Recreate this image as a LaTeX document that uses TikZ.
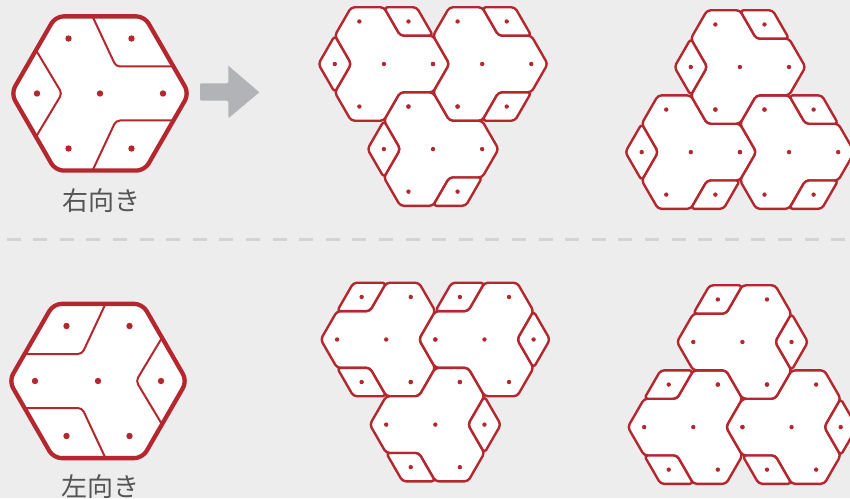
\documentclass[tikz,border=0pt]{standalone}
\usepackage{fontspec}
\newfontfamily\jpfont{Noto Sans CJK JP}
\definecolor{hexred}{HTML}{B5272E}
\definecolor{bggray}{HTML}{EDEDED}
\definecolor{arrowgray}{HTML}{B2B3B6}
\definecolor{dashgray}{HTML}{D3D3D3}
\definecolor{labelgray}{HTML}{555555}
\tikzset{
  piece/.style={fill=white, draw=hexred, line width=2.4pt, rounded corners=3.5pt, line join=round},
  bigline/.style={draw=hexred, line width=2pt, rounded corners=4pt, line join=round},
  label/.style={font=\jpfont\fontsize{26}{26}\selectfont, text=labelgray, anchor=base, inner sep=0pt}
}
% small tile pieces (right-facing, centred at origin)
\newcommand{\tpiece}{\path[piece] (65.5,0) -- (49.125,28.36) -- (16.375,28.36) -- (0,56.72) -- (-32.75,56.72) -- (-49.125,28.36) -- (-32.75,0) -- (-49.125,-28.36) -- (-32.75,-56.72) -- (0,-56.72) -- (16.375,-28.36) -- (49.125,-28.36) -- cycle;}
\newcommand{\trhA}{\path[piece] (32.75,56.72) -- (49.125,28.36) -- (16.375,28.36) -- (0,56.72) -- cycle;}
\newcommand{\trhB}{\path[piece] (-65.5,0) -- (-49.125,28.36) -- (-32.75,0) -- (-49.125,-28.36) -- cycle;}
\newcommand{\trhC}{\path[piece] (32.75,-56.72) -- (49.125,-28.36) -- (16.375,-28.36) -- (0,-56.72) -- cycle;}
\newcommand{\tdots}{\foreach \p in {(0,0),(49.125,0),(-49.125,0),(24.56,42.54),(-24.56,42.54),(24.56,-42.54),(-24.56,-42.54)} \fill[hexred] \p circle (2.2);}
% big icon (right-facing, centred at origin)
\newcommand{\bigicon}{%
  \path[fill=white, rounded corners=8pt] (89,0) -- (44.5,77.1) -- (-44.5,77.1) -- (-89,0) -- (-44.5,-77.1) -- (44.5,-77.1) -- cycle;
  \path[bigline] (-7.5,77.1) -- (16,27) -- (73.4,27);
  \path[bigline] (-7.5,-77.1) -- (16,-27) -- (73.4,-27);
  \path[bigline] (-64,43.3) -- (-38,0) -- (-64,-43.3);
  \draw[hexred, line width=4.3pt, rounded corners=8pt, line join=round] (89,0) -- (44.5,77.1) -- (-44.5,77.1) -- (-89,0) -- (-44.5,-77.1) -- (44.5,-77.1) -- cycle;
  \foreach \p in {(0,0),(63,0),(-63,0),(31.5,55),(-31.5,55),(31.5,-55),(-31.5,-55)} \fill[hexred] \p circle (3.2);
}
\begin{document}
\begin{tikzpicture}[x=1pt,y=1pt]
\fill[bggray] (0,0) rectangle (850,498);
\useasboundingbox (0,0) rectangle (850,498);
\clip (0,0) rectangle (850,498);

% separator
\draw[dashgray, line width=3pt, dash pattern=on 14pt off 12.6pt] (6.5,258) -- (850,258);

% big icons
\begin{scope}[shift={(100,404.5)}] \bigicon \end{scope}
\begin{scope}[shift={(98,117)}, xscale=-1] \bigicon \end{scope}
\node[label] (lab1) at (101,287) {右向き};
\node[label] (lab2) at (100,2) {左向き};

% arrow
\fill[arrowgray, rounded corners=1.2pt] (200,397.3) -- (228.3,397.3) -- (228.3,379.7) [sharp corners] -- (259.3,405.7) -- (228.3,432.3) [rounded corners=1.2pt] -- (228.3,414.7) -- (200,414.7) -- cycle;

% top-middle tiling (right-facing)
\begin{scope}[shift={(383.9,434)}] \tpiece \trhB \trhA \end{scope}
\begin{scope}[shift={(482.15,434)}] \tpiece \trhA \trhC \end{scope}
\begin{scope}[shift={(433.0,348.9)}] \tpiece \trhB \trhC \end{scope}
\begin{scope}[shift={(383.9,434)}] \tdots \end{scope}
\begin{scope}[shift={(482.15,434)}] \tdots \end{scope}
\begin{scope}[shift={(433.0,348.9)}] \tdots \end{scope}

% top-right tiling (right-facing)
\begin{scope}[shift={(690.8,345.9)}] \tpiece \trhB \trhC \end{scope}
\begin{scope}[shift={(789.05,345.9)}] \tpiece \trhA \trhC \end{scope}
\begin{scope}[shift={(739.9,431)}] \tpiece \trhB \trhA \end{scope}
\begin{scope}[shift={(690.8,345.9)}] \tdots \end{scope}
\begin{scope}[shift={(789.05,345.9)}] \tdots \end{scope}
\begin{scope}[shift={(739.9,431)}] \tdots \end{scope}

% bottom-middle tiling (left-facing)
\begin{scope}[shift={(386.2,158.5)}, xscale=-1] \tpiece \trhA \trhC \end{scope}
\begin{scope}[shift={(484.45,158.5)}, xscale=-1] \tpiece \trhB \trhA \end{scope}
\begin{scope}[shift={(435.3,73.4)}, xscale=-1] \tpiece \trhB \trhC \end{scope}
\begin{scope}[shift={(386.2,158.5)}] \tdots \end{scope}
\begin{scope}[shift={(484.45,158.5)}] \tdots \end{scope}
\begin{scope}[shift={(435.3,73.4)}] \tdots \end{scope}

% bottom-right tiling (left-facing)
\begin{scope}[shift={(693.3,70.9)}, xscale=-1] \tpiece \trhA \trhC \end{scope}
\begin{scope}[shift={(791.55,70.9)}, xscale=-1] \tpiece \trhB \trhC \end{scope}
\begin{scope}[shift={(742.4,156.0)}, xscale=-1] \tpiece \trhB \trhA \end{scope}
\begin{scope}[shift={(693.3,70.9)}] \tdots \end{scope}
\begin{scope}[shift={(791.55,70.9)}] \tdots \end{scope}
\begin{scope}[shift={(742.4,156.0)}] \tdots \end{scope}
\end{tikzpicture}
\end{document}
